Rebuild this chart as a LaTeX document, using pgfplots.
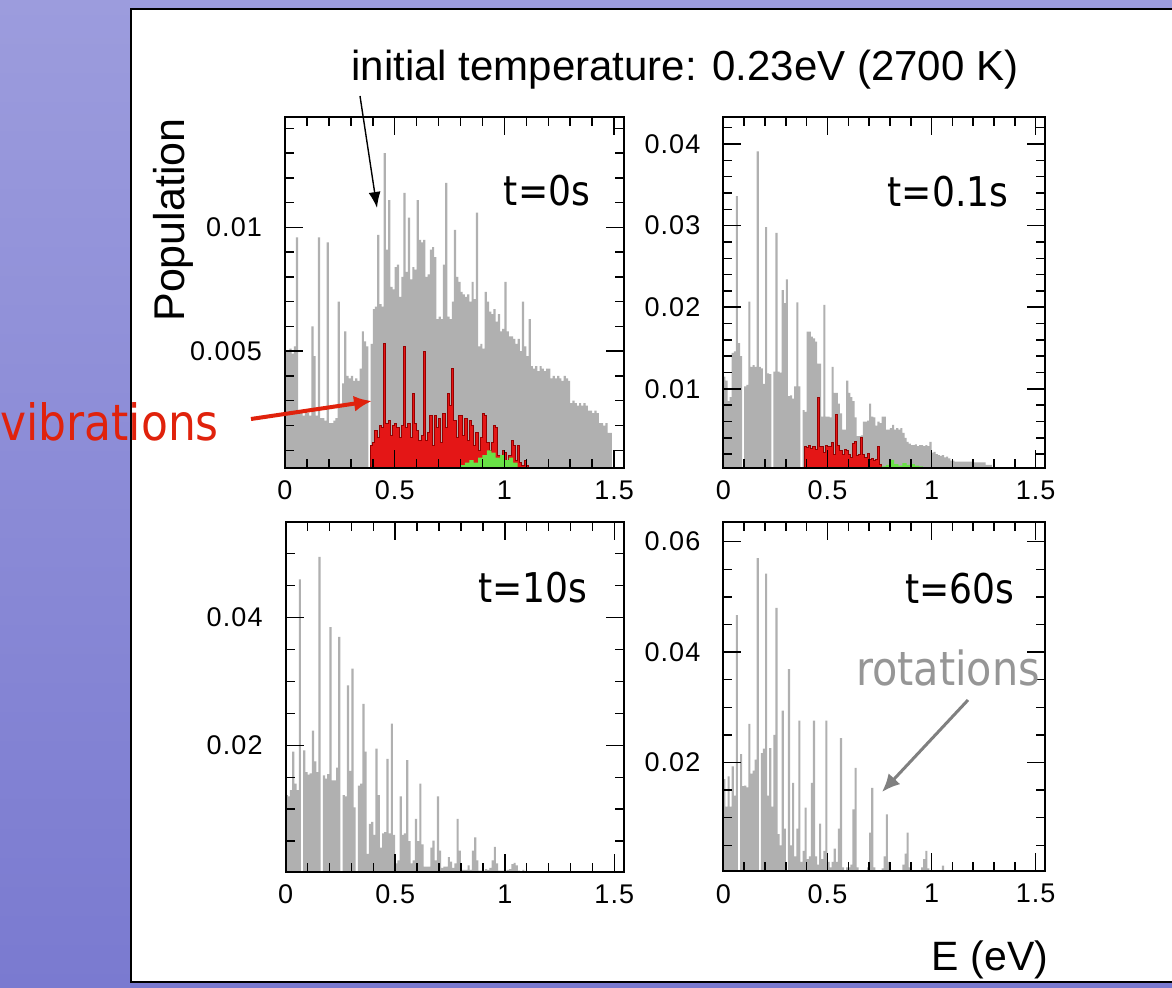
\documentclass[border=0pt]{standalone}
\usepackage{fontspec}
\setmainfont{Liberation Sans}
\newfontfamily\tahoma[FakeStretch=0.88]{DejaVu Sans}
\newfontfamily\tickfont[LetterSpace=4]{Liberation Sans}
\usepackage{pgfplots}
\pgfplotsset{compat=1.18}
\usetikzlibrary{arrows.meta}

\definecolor{histgray}{RGB}{176,176,176}
\definecolor{vib}{RGB}{228,22,22}
\definecolor{vibline}{RGB}{150,0,0}
\definecolor{grn}{RGB}{105,225,70}
\definecolor{lavtop}{RGB}{156,156,221}
\definecolor{lavmid}{RGB}{236,236,246}
\definecolor{lavbot}{RGB}{122,122,208}
\definecolor{vibtext}{RGB}{224,34,12}
\definecolor{rottext}{RGB}{150,150,150}

% all y values are in units of 1e-3
\pgfplotsset{
  panel/.style={
    scale only axis, axis on top, anchor=north west,
    xmin=0, xmax=1.545,
    xtick={0,0.5,1,1.5}, xticklabels={0,0.5,1,1.5},
    minor xtick={0.1,0.2,0.3,0.4,0.6,0.7,0.8,0.9,1.1,1.2,1.3,1.4},
    tick align=inside,
    major tick length=9pt, minor tick length=4.5pt,
    every tick/.style={black, line width=0.75pt},
    axis line style={line width=1pt},
    ticklabel style={font=\tickfont\fontsize{13.5}{13.5}\selectfont},
    xticklabel style={yshift=-3pt},
    yticklabel style={xshift=-8pt},
  },
  hist/.style={const plot, draw=none, fill=histgray},
  vibs/.style={const plot, draw=vibline, line width=0.5pt, fill=vib},
  grns/.style={const plot, draw=none, fill=grn},
}

\begin{document}
\begin{tikzpicture}
\useasboundingbox (0,0) rectangle (586pt,-494pt);
\shade[top color=lavtop, middle color=lavmid, bottom color=lavbot] (0,0) rectangle (586pt,-494pt);
\fill[white] (65.5pt,-4.5pt) rectangle (590pt,-491pt);
\draw[black, line width=0.8pt] (590pt,-4.5pt) -- (65.5pt,-4.5pt) -- (65.5pt,-491pt) -- (590pt,-491pt);

% t = 0 s
\begin{axis}[panel, at={(142.5pt,-58.5pt)}, width=169.5pt, height=175.3pt,
  ymin=0.3, ymax=14.46, ytick={5,10}, yticklabels={0.005,0.01},
  minor ytick={1,2,3,4,6,7,8,9,11,12,13,14}]
\addplot[hist] coordinates {
(0.00,5.0)(0.01,5.0)(0.02,5.1)(0.03,4.9)(0.04,5.2)(0.05,9.6)(0.06,2.6)(0.07,2.5)(0.08,2.4)(0.09,2.6)
(0.10,2.5)(0.11,2.4)(0.12,6.0)(0.13,4.8)(0.14,2.4)(0.15,9.6)(0.16,2.3)(0.17,2.3)(0.18,2.2)(0.19,9.4)
(0.20,2.1)(0.21,2.1)(0.22,2.2)(0.23,2.3)(0.24,7.0)(0.25,2.8)(0.26,3.7)(0.27,5.8)(0.28,4.0)(0.29,3.9)
(0.30,4.0)(0.31,3.8)(0.32,3.9)(0.33,3.8)(0.34,4.3)(0.35,5.8)(0.36,5.4)(0.37,5.2)(0.38,0.2)(0.39,5.3)
(0.40,6.7)(0.41,6.8)(0.42,9.7)(0.43,6.9)(0.44,6.8)(0.45,13.0)(0.46,9.1)(0.47,11.1)(0.48,7.6)(0.49,7.5)
(0.50,8.4)(0.51,8.5)(0.52,7.2)(0.53,8.0)(0.54,11.4)(0.55,8.2)(0.56,10.4)(0.57,7.9)(0.58,8.4)(0.59,8.3)
(0.60,11.1)(0.61,9.5)(0.62,9.4)(0.63,9.5)(0.64,8.0)(0.65,8.1)(0.66,9.1)(0.67,9.2)(0.68,8.8)(0.69,6.3)
(0.70,6.4)(0.71,6.3)(0.72,8.5)(0.73,11.8)(0.74,6.4)(0.75,6.3)(0.76,7.0)(0.77,9.9)(0.78,8.0)(0.79,7.8)
(0.80,7.4)(0.81,7.3)(0.82,7.2)(0.83,7.3)(0.84,7.0)(0.85,7.8)(0.86,7.1)(0.87,10.6)(0.88,5.2)(0.89,5.3)
(0.90,5.1)(0.91,7.4)(0.92,7.0)(0.93,6.6)(0.94,6.5)(0.95,6.7)(0.96,6.2)(0.97,6.5)(0.98,5.8)(0.99,5.9)
(1.00,7.8)(1.01,5.8)(1.02,5.6)(1.03,5.6)(1.04,5.5)(1.05,5.3)(1.06,5.5)(1.07,5.0)(1.08,7.0)(1.09,5.2)
(1.10,4.8)(1.11,6.3)(1.12,4.4)(1.13,4.3)(1.14,4.4)(1.15,4.2)(1.16,4.4)(1.17,4.3)(1.18,4.2)(1.19,4.3)
(1.20,4.3)(1.21,3.9)(1.22,4.0)(1.23,3.9)(1.24,4.0)(1.25,3.9)(1.26,3.8)(1.27,4.0)(1.28,3.9)(1.29,3.8)
(1.30,2.9)(1.31,3.0)(1.32,2.9)(1.33,2.8)(1.34,2.9)(1.35,2.8)(1.36,2.9)(1.37,2.8)(1.38,2.6)(1.39,2.6)
(1.40,2.5)(1.41,2.6)(1.42,2.5)(1.43,2.1)(1.44,2.1)(1.45,2.0)(1.46,2.1)(1.47,1.7)(1.48,1.7)(1.49,1.7)
} \closedcycle;
\addplot[vibs] coordinates {
(0.39,1.2)(0.40,1.3)(0.41,1.8)(0.42,1.5)(0.43,2.0)(0.44,1.9)(0.45,5.3)(0.46,2.1)(0.47,2.2)(0.48,1.6)
(0.49,2.0)(0.50,2.1)(0.51,1.9)(0.52,1.5)(0.53,2.0)(0.54,5.2)(0.55,1.9)(0.56,2.1)(0.57,1.5)(0.58,3.3)
(0.59,2.1)(0.60,1.8)(0.61,1.4)(0.62,1.6)(0.63,5.0)(0.64,1.4)(0.65,1.7)(0.66,2.4)(0.67,1.2)(0.68,2.4)
(0.69,1.9)(0.70,2.3)(0.71,1.3)(0.72,2.5)(0.73,1.9)(0.74,3.3)(0.75,2.8)(0.76,4.3)(0.77,2.2)(0.78,1.5)
(0.79,2.4)(0.80,2.4)(0.81,1.6)(0.82,2.3)(0.83,1.4)(0.84,2.2)(0.85,2.0)(0.86,1.2)(0.87,1.7)(0.88,1.0)
(0.89,1.5)(0.90,2.5)(0.91,2.4)(0.92,1.3)(0.93,1.0)(0.94,1.3)(0.95,2.0)(0.96,1.9)(0.97,0.8)(0.98,0.7)
(0.99,1.0)(1.00,0.9)(1.01,0.6)(1.02,0.8)(1.03,1.4)(1.04,1.2)(1.05,0.6)(1.06,1.2)(1.07,0.5)(1.08,0.4)
(1.09,0.6)(1.10,0.4)(1.11,0.4)
} \closedcycle;
\addplot[grns] coordinates {
(0.80,0.4)(0.82,0.5)(0.84,0.6)(0.86,0.5)(0.88,0.7)(0.90,0.8)(0.92,1.0)(0.94,0.9)(0.96,0.7)(0.98,0.8)
(1.00,0.6)(1.02,0.7)(1.04,0.5)(1.06,0.5)
} \closedcycle;
\end{axis}

% t = 0.1 s
\begin{axis}[panel, at={(361.7pt,-58.5pt)}, width=160.8pt, height=175.3pt,
  ymin=0.36, ymax=43.3, ytick={10,20,30,40}, yticklabels={0.01,0.02,0.03,0.04},
  minor ytick={2,4,6,8,12,14,16,18,22,24,26,28,32,34,36,38,42}]
\addplot[hist] coordinates {
(0.00,11.5)(0.01,11.0)(0.02,8.5)(0.03,9.0)(0.04,14.4)(0.05,14.6)(0.06,33.6)(0.07,15.6)(0.08,14.0)(0.09,0.3)
(0.10,10.3)(0.11,10.5)(0.12,20.7)(0.13,12.7)(0.14,12.9)(0.15,12.7)(0.16,39.1)(0.17,12.7)(0.18,12.5)(0.19,10.6)
(0.20,29.8)(0.21,11.9)(0.22,11.8)(0.23,0.3)(0.24,12.1)(0.25,29.1)(0.26,12.1)(0.27,12.0)(0.28,22.1)(0.29,20.5)
(0.30,23.4)(0.31,9.1)(0.32,9.2)(0.33,8.8)(0.34,10.3)(0.35,20.6)(0.36,10.3)(0.37,0.3)(0.38,7.4)(0.39,7.2)
(0.40,17.0)(0.41,17.0)(0.42,16.4)(0.43,16.2)(0.44,15.8)(0.45,13.1)(0.46,13.1)(0.47,6.6)(0.48,20.3)(0.49,6.6)
(0.50,6.6)(0.51,6.5)(0.52,12.7)(0.53,9.5)(0.54,9.5)(0.55,8.2)(0.56,7.0)(0.57,5.0)(0.58,5.0)(0.59,11.0)
(0.60,9.5)(0.61,9.0)(0.62,8.5)(0.63,6.5)(0.64,4.2)(0.65,4.2)(0.66,4.3)(0.67,6.0)(0.68,6.0)(0.69,6.1)
(0.70,8.2)(0.71,6.6)(0.72,6.5)(0.73,5.5)(0.74,6.0)(0.75,5.8)(0.76,6.6)(0.77,6.6)(0.78,5.0)(0.79,5.0)
(0.80,5.2)(0.81,5.6)(0.82,5.0)(0.83,5.2)(0.84,5.0)(0.85,5.2)(0.86,4.6)(0.87,4.0)(0.88,3.5)(0.89,3.3)
(0.90,3.1)(0.91,3.1)(0.92,3.2)(0.93,3.0)(0.94,3.1)(0.95,3.1)(0.96,3.0)(0.97,3.1)(0.98,3.0)(0.99,3.5)
(1.00,2.2)(1.01,2.3)(1.02,2.0)(1.03,1.9)(1.04,1.8)(1.05,1.9)(1.06,1.6)(1.07,1.7)(1.08,1.5)(1.09,1.2)
(1.11,1.1)(1.20,1.0)(1.26,0.7)(1.29,0.7)
} \closedcycle;
\addplot[vibs] coordinates {
(0.39,3.0)(0.40,2.8)(0.41,3.1)(0.42,2.7)(0.43,3.0)(0.44,2.6)(0.45,9.0)(0.46,3.0)(0.47,2.9)(0.48,2.2)
(0.49,3.1)(0.50,3.0)(0.51,2.9)(0.52,3.4)(0.53,2.0)(0.54,6.9)(0.55,3.1)(0.56,2.5)(0.57,2.0)(0.58,2.6)
(0.59,2.4)(0.60,2.0)(0.61,1.6)(0.62,3.3)(0.63,3.5)(0.64,1.8)(0.65,2.0)(0.66,4.0)(0.67,2.0)(0.68,1.6)
(0.69,2.1)(0.70,1.3)(0.71,1.5)(0.72,1.2)(0.73,1.4)(0.74,3.0)(0.75,0.8)(0.76,0.8)
} \closedcycle;
\addplot[grns] coordinates {
(0.76,0.5)(0.78,0.7)(0.80,1.3)(0.82,0.8)(0.84,0.6)(0.86,0.9)(0.88,0.7)(0.90,0.8)(0.92,0.6)(0.94,0.5)(0.96,0.5)
} \closedcycle;
\end{axis}

% t = 10 s
\begin{axis}[panel, at={(142.8pt,-260.9pt)}, width=169.3pt, height=175pt,
  ymin=0.2, ymax=55, ytick={20,40}, yticklabels={0.02,0.04},
  minor ytick={5,10,15,25,30,35,45,50}]
\addplot[hist] coordinates {
(0.00,12.2)(0.01,12.0)(0.02,13.0)(0.03,19.0)(0.04,14.0)(0.05,13.0)(0.06,46.0)(0.07,0.3)(0.08,19.2)(0.09,15.8)
(0.10,15.4)(0.11,15.6)(0.12,22.3)(0.13,17.5)(0.14,15.8)(0.15,49.5)(0.16,0.3)(0.17,15.3)(0.18,14.8)(0.19,15.5)
(0.20,38.5)(0.21,14.5)(0.22,14.5)(0.23,16.5)(0.24,37.0)(0.25,0.3)(0.26,12.2)(0.27,12.0)(0.28,29.4)(0.29,16.0)
(0.30,32.0)(0.31,10.3)(0.32,0.3)(0.33,13.7)(0.34,14.0)(0.35,26.5)(0.36,19.0)(0.37,3.0)(0.38,7.7)(0.39,8.0)
(0.40,6.0)(0.41,19.5)(0.42,12.2)(0.43,4.0)(0.44,6.2)(0.45,6.4)(0.46,17.9)(0.47,6.2)(0.48,23.4)(0.49,6.0)
(0.50,1.5)(0.51,2.0)(0.52,12.0)(0.53,6.0)(0.54,6.2)(0.55,17.7)(0.56,5.0)(0.57,1.5)(0.58,2.0)(0.59,8.5)
(0.60,5.0)(0.61,14.0)(0.62,4.5)(0.63,1.0)(0.66,4.0)(0.67,5.1)(0.68,2.0)(0.69,12.0)(0.70,3.5)(0.71,0.8)
(0.72,1.0)(0.74,2.5)(0.75,1.8)(0.76,0.8)(0.77,1.5)(0.78,8.5)(0.79,3.5)(0.80,0.5)(0.83,1.2)(0.84,0.5)
(0.85,3.5)(0.86,5.6)(0.87,2.0)(0.88,0.4)(0.91,0.6)(0.92,0.5)(0.93,0.8)(0.94,2.0)(0.95,4.1)(0.96,1.5)
(0.97,0.4)(1.01,0.5)(1.02,0.6)(1.03,1.4)(1.04,1.6)(1.05,1.2)(1.06,0.4)(1.07,0.3)(1.08,0.5)(1.09,0.3)
(1.14,0.3)
} \closedcycle;
\end{axis}

% t = 60 s
\begin{axis}[panel, at={(361.7pt,-260.9pt)}, width=160.8pt, height=174.7pt,
  ymin=0.3, ymax=63.6, ytick={20,40,60}, yticklabels={0.02,0.04,0.06},
  minor ytick={5,10,15,25,30,35,45,50,55}]
\addplot[hist] coordinates {
(0.00,17.0)(0.01,12.0)(0.02,17.5)(0.03,12.0)(0.04,19.3)(0.05,14.0)(0.06,46.7)(0.07,0.3)(0.08,21.5)(0.09,15.7)
(0.10,15.8)(0.11,15.5)(0.12,27.0)(0.13,18.0)(0.14,18.5)(0.15,20.5)(0.16,57.0)(0.17,0.3)(0.18,21.7)(0.19,22.5)
(0.20,54.2)(0.21,14.0)(0.22,22.6)(0.23,12.0)(0.24,25.0)(0.25,48.0)(0.26,7.0)(0.27,5.0)(0.28,29.4)(0.29,8.0)
(0.30,0.3)(0.31,36.9)(0.32,5.0)(0.33,16.3)(0.34,3.0)(0.35,8.0)(0.36,27.6)(0.37,2.0)(0.38,4.0)(0.39,11.8)
(0.40,2.5)(0.41,3.0)(0.42,16.3)(0.43,27.6)(0.44,3.0)(0.45,1.5)(0.46,8.9)(0.47,2.5)(0.48,4.0)(0.49,27.6)
(0.50,2.0)(0.51,1.0)(0.52,2.0)(0.53,4.4)(0.54,2.0)(0.55,8.0)(0.56,24.4)(0.57,1.0)(0.58,0.5)(0.59,1.0)
(0.61,1.5)(0.62,11.5)(0.63,19.0)(0.64,1.0)(0.65,0.5)(0.69,1.0)(0.70,7.3)(0.71,15.4)(0.72,1.0)(0.73,0.4)
(0.76,0.8)(0.77,3.0)(0.78,10.6)(0.79,2.0)(0.80,0.4)(0.86,1.5)(0.87,3.5)(0.88,7.3)(0.89,1.0)(0.90,0.4)
(0.95,1.0)(0.96,2.5)(0.97,4.0)(0.98,0.8)(0.99,0.4)(1.04,0.5)(1.05,1.3)(1.06,0.5)(1.07,0.5)
} \closedcycle;
\end{axis}

% annotations
\node[font=\fontsize{21}{21}\selectfont] at (342.5pt,-35pt) {initial temperature: 0.23eV (2700 K)};
\node[font=\fontsize{21.5}{21.5}\selectfont, rotate=90] at (86.5pt,-110pt) {Population};
\node[font=\fontsize{20.5}{20.5}\selectfont] at (495pt,-480pt) {E (eV)};
\node[font=\tahoma\fontsize{20.5}{20.5}\selectfont] at (273.5pt,-95.5pt) {t=0s};
\node[font=\tahoma\fontsize{20.5}{20.5}\selectfont] at (474pt,-96pt) {t=0.1s};
\node[font=\tahoma\fontsize{20.5}{20.5}\selectfont] at (266.5pt,-294pt) {t=10s};
\node[font=\tahoma\fontsize{20.5}{20.5}\selectfont] at (480pt,-294.5pt) {t=60s};
\node[font=\tahoma\fontsize{25}{25}\selectfont, text=vibtext, anchor=west, inner sep=0pt] at (0pt,-211pt) {vibrations};
\node[font=\tahoma\fontsize{23.5}{23.5}\selectfont, text=rottext] at (474pt,-334pt) {rotations};
\draw[black, line width=0.7pt, -{Latex[length=8pt,width=6pt]}] (180pt,-48pt) -- (188.5pt,-104pt);
\draw[vibtext, line width=2pt, -{Latex[length=9pt,width=8pt]}] (125.5pt,-209.5pt) -- (186pt,-200.5pt);
\draw[rottext!85!black, line width=1.5pt, -{Latex[length=9pt,width=8pt]}] (484pt,-350pt) -- (441pt,-396pt);
\end{tikzpicture}
\end{document}
